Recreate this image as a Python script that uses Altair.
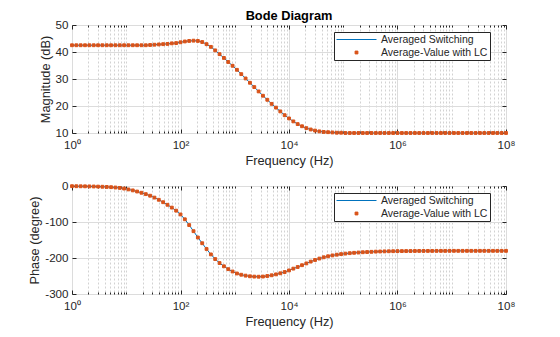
import altair as alt
import pandas as pd

# ---------------- data ----------------
log_f = [0.00, 0.08, 0.16, 0.24, 0.32, 0.40, 0.48, 0.56, 0.64, 0.72,
         0.80, 0.88, 0.96, 1.04, 1.12, 1.20, 1.28, 1.36, 1.44, 1.52,
         1.60, 1.68, 1.76, 1.84, 1.92, 2.00, 2.08, 2.16, 2.24, 2.32,
         2.40, 2.48, 2.56, 2.64, 2.72, 2.80, 2.88, 2.96, 3.04, 3.12,
         3.20, 3.28, 3.36, 3.44, 3.52, 3.60, 3.68, 3.76, 3.84, 3.92,
         4.00, 4.08, 4.16, 4.24, 4.32, 4.40, 4.48, 4.56, 4.64, 4.72,
         4.80, 4.88, 4.96, 5.04, 5.12, 5.20, 5.28, 5.36, 5.44, 5.52,
         5.60, 5.68, 5.76, 5.84, 5.92, 6.00, 6.08, 6.16, 6.24, 6.32,
         6.40, 6.48, 6.56, 6.64, 6.72, 6.80, 6.88, 6.96, 7.04, 7.12,
         7.20, 7.28, 7.36, 7.44, 7.52, 7.60, 7.68, 7.76, 7.84, 7.92,
         8.00]

mag_db = [42.5, 42.5, 42.5, 42.5, 42.5, 42.5, 42.5, 42.5, 42.5, 42.5,
          42.5, 42.5, 42.5, 42.5, 42.5, 42.5, 42.5, 42.5, 42.6, 42.7,
          42.8, 42.9, 43.0, 43.2, 43.3, 43.6, 43.9, 44.1, 44.2, 44.1,
          43.7, 42.9, 41.9, 40.6, 39.2, 37.8, 36.3, 34.9, 33.4, 31.8,
          30.2, 28.6, 27.0, 25.4, 23.8, 22.3, 20.8, 19.4, 18.0, 16.6,
          15.4, 14.3, 13.3, 12.5, 11.8, 11.3, 10.9, 10.6, 10.4, 10.3,
          10.2, 10.1, 10.1, 10.0, 10.0, 10.0, 10.0, 10.0, 10.0, 10.0,
          10.0, 10.0, 10.0, 10.0, 10.0, 10.0, 10.0, 10.0, 10.0, 10.0,
          10.0, 10.0, 10.0, 10.0, 10.0, 10.0, 10.0, 10.0, 10.0, 10.0,
          10.0, 10.0, 10.0, 10.0, 10.0, 10.0, 10.0, 10.0, 10.0, 10.0,
          10.0]

phase_deg = [-0.5, -0.6, -0.8, -0.9, -1.1, -1.4, -1.7, -2.1, -2.6, -3.3,
             -4.2, -5.3, -7.2, -9.5, -12.2, -15.3, -18.8, -22.6, -27.0, -32.2,
             -38.3, -45.0, -52.2, -60.0, -68.5, -79.0, -92.5, -108.5, -125.5, -143.0,
             -159.0, -175.0, -190.0, -203.0, -214.0, -223.0, -231.0, -237.5, -243.0, -246.5,
             -249.0, -250.8, -251.7, -252.0, -251.5, -250.0, -248.0, -245.5, -242.5, -239.0,
             -234.5, -229.5, -225.0, -220.0, -215.0, -210.0, -205.5, -201.5, -198.0, -195.2,
             -192.8, -190.8, -189.2, -187.8, -186.6, -185.6, -184.8, -184.0, -183.4, -182.8,
             -182.3, -181.9, -181.6, -181.3, -181.1, -180.9, -180.8, -180.7, -180.6, -180.5,
             -180.4, -180.4, -180.3, -180.3, -180.2, -180.2, -180.2, -180.1, -180.1, -180.1,
             -180.1, -180.1, -180.1, -180.1, -180.1, -180.1, -180.1, -180.1, -180.1, -180.1,
             -180.1]

series_names = ["Averaged Switching", "Average-Value with LC"]
series_colors = ["#0072BD", "#D95319"]

x_major = [1, 100, 10000, 1000000, 100000000]
x_major_labels = ["10\u2070", "10\u00b2", "10\u2074", "10\u2076", "10\u2078"]
x_minor = [m * 10 ** k for k in range(8) for m in range(2, 10)] + [10, 1000, 100000, 10000000]
mag_ticks = [10, 20, 30, 40, 50]
phase_ticks = [-300, -200, -100, 0]

freq = [10 ** e for e in log_f]
df_sw = pd.DataFrame({"f": freq, "mag": mag_db, "phase": phase_deg, "series": series_names[0]})
df_lc = pd.DataFrame({"f": freq, "mag": list(mag_db), "phase": list(phase_deg), "series": series_names[1]})

# ---------------- style ----------------
FONT = "Liberation Sans"
INK = "#262626"
TICK_FS = 11.6
LABEL_FS = 12.8

all_x = sorted(x_major + x_minor)
major_test = " || ".join(f"datum.value == {v}" for v in x_major)
label_expr = " : ".join(f"datum.value == {v} ? '{l}'" for v, l in zip(x_major, x_major_labels)) + " : ''"

xscale = alt.Scale(type="log", domain=[1, 100000000], nice=False)


def main_x_axis():
    return alt.Axis(values=all_x, title="Frequency (Hz)", labelExpr=label_expr,
                    labelOverlap=False, labelFlush=False, ticks=False, domain=False,
                    grid=True,
                    gridDash={"condition": {"test": major_test, "value": []}, "value": [2, 2]},
                    gridColor={"condition": {"test": major_test, "value": "#dcdcdc"}, "value": "#d2d2d2"},
                    gridWidth=1, labelPadding=6, titlePadding=4,
                    labelFontSize=TICK_FS, titleFontSize=LABEL_FS)


def main_y_axis(ticks, title):
    return alt.Axis(values=ticks, title=title, labelExpr="'' + datum.value",
                    ticks=False, domain=False, grid=True, gridColor="#dcdcdc",
                    labelPadding=4, titlePadding=3,
                    labelFontSize=TICK_FS, titleFontSize=LABEL_FS)


def tick_axis(orient, values, size):
    return alt.Axis(orient=orient, values=values, offset=-size, tickSize=size,
                    labels=False, grid=False, domain=False, title=None,
                    ticks=True, tickColor=INK, tickWidth=1)


legend = alt.Legend(title=None, orient="none", legendX=262, legendY=7,
                    fillColor="white", strokeColor=INK, padding=2,
                    clipHeight=11, rowPadding=2, labelFont=FONT,
                    labelFontSize=10.5, labelColor=INK, symbolStrokeWidth=1,
                    labelOffset=4, labelLimit=300, cornerRadius=0)


def panel(col, domain, ticks, ytitle):
    yscale = alt.Scale(domain=domain, nice=False, zero=False)
    xf = "f:Q"
    yf = f"{col}:Q"

    line = alt.Chart(df_sw).mark_line(strokeWidth=1).encode(
        x=alt.X(xf, scale=xscale, axis=main_x_axis()),
        y=alt.Y(yf, scale=yscale, axis=main_y_axis(ticks, ytitle)),
        color=alt.value(series_colors[0]),
    )
    pts = alt.Chart(df_lc).mark_point(filled=False, fill=series_colors[1],
                                      strokeWidth=1, opacity=1).encode(
        x=alt.X(xf, scale=xscale, axis=tick_axis("bottom", x_major, 4)),
        y=alt.Y(yf, scale=yscale, axis=tick_axis("left", ticks, 4)),
        color=alt.Color("series:N", scale=alt.Scale(domain=series_names, range=series_colors), legend=legend),
        shape=alt.Shape("series:N", scale=alt.Scale(domain=series_names, range=["stroke", "square"]), legend=legend),
        size=alt.Size("series:N", scale=alt.Scale(type="ordinal", domain=series_names, range=[1600, 8]), legend=legend),
    )
    t3 = alt.Chart(df_sw).mark_point(opacity=0).encode(
        x=alt.X(xf, scale=xscale, axis=tick_axis("bottom", x_minor, 2)),
        y=alt.Y(yf, scale=yscale, axis=tick_axis("right", ticks, 4)),
    )
    t4 = alt.Chart(df_sw).mark_point(opacity=0).encode(
        x=alt.X(xf, scale=xscale, axis=tick_axis("top", x_major, 4)),
        y=alt.Y(yf, scale=yscale, axis=None),
    )
    t5 = alt.Chart(df_sw).mark_point(opacity=0).encode(
        x=alt.X(xf, scale=xscale, axis=tick_axis("top", x_minor, 2)),
        y=alt.Y(yf, scale=yscale, axis=None),
    )
    return alt.layer(line, pts, t3, t4, t5).resolve_axis(x="independent", y="independent").properties(
        width=434, height=108)


top = panel("mag", [10, 50], mag_ticks, "Magnitude (dB)").properties(
    title=alt.TitleParams("Bode Diagram", anchor="middle", frame="group", offset=-4,
                          fontSize=LABEL_FS, fontWeight="bold", font=FONT, color="#000000"))
bottom = panel("phase", [-300, 0], phase_ticks, "Phase (degree)")

chart = alt.vconcat(top, bottom, spacing=11).resolve_scale(
    color="independent", shape="independent", size="independent"
).properties(
    padding={"left": 28, "top": 9, "right": 5, "bottom": 5}
).configure_view(
    stroke=INK, strokeWidth=1
).configure_axis(
    labelFont=FONT, titleFont=FONT, labelColor=INK, titleColor=INK, titleFontWeight="normal"
)

chart.save("out.html", embed_options={"renderer": "svg", "actions": False})
